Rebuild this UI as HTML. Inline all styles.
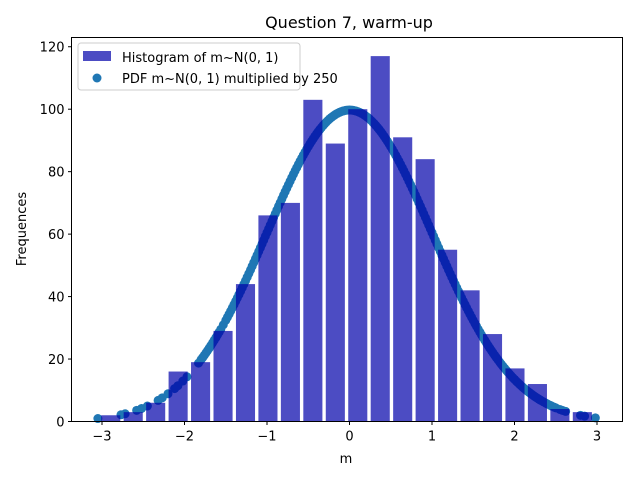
<!DOCTYPE html>
<html><head><meta charset="utf-8"><style>
body{margin:0;background:#fff;}
svg{display:block;font-family:"DejaVu Sans","Liberation Sans",sans-serif;}
</style></head><body>
<svg id="chart" width="640" height="480">
<rect width="640" height="480" fill="#fff"/>
<text x="349" y="28" font-size="16" text-anchor="middle">Question 7, warm-up</text>
<g id="scatter"></g>
<g id="bars"></g>
<g id="axes"></g>
<text x="346" y="463" font-size="13" text-anchor="middle">m</text>
<text x="26" y="229" font-size="13" text-anchor="middle" transform="rotate(-90 26 229)">Frequences</text>
<g>
<rect x="78" y="43" width="222" height="47" rx="3" fill="#fff" fill-opacity="0.8" stroke="#ccc"/>
<rect x="83" y="51" width="28" height="10" fill="#0000aa" fill-opacity="0.7"/>
<text x="122" y="62" font-size="13">Histogram of m~N(0, 1)</text>
<circle cx="97" cy="78" r="4.5" fill="#1f77b4"/>
<text x="122" y="83" font-size="13">PDF m~N(0, 1) multiplied by 250</text>
</g>
</svg>
<script>
const binStart = -3.03;
const binWidth = 0.2722;
const counts = [2,3,6,16,19,29,44,66,70,103,89,100,117,91,84,55,42,28,17,12,4,3];
const yTicks = [0,20,40,60,80,100,120];
const xTicks = [-3,-2,-1,0,1,2,3];
const sampleX = [-3.05,-2.77,-2.72,-2.58,-2.52,-2.45,-2.32,-2.27,-2.2,-2.12,-2.08,-2.02,-1.97,-1.83,-1.8,-1.78,-1.76,-1.74,-1.72,-1.7,-1.68,-1.66,-1.64,-1.62,-1.6,-1.58,-1.56,-1.53,-1.5,-1.48,-1.46,-1.44,-1.42,-1.4,-1.38,-1.36,-1.34,-1.32,-1.3,-1.28,-1.26,-1.24,-1.22,-1.2,-1.18,-1.16,-1.14,-1.12,-1.1,-1.08,-1.06,-1.04,-1.02,-1,-0.98,-0.96,-0.94,-0.92,-0.9,-0.88,-0.86,-0.84,-0.82,-0.8,-0.78,-0.76,-0.74,-0.72,-0.7,-0.68,-0.66,-0.64,-0.62,-0.6,-0.58,-0.56,-0.54,-0.52,-0.5,-0.48,-0.46,-0.44,-0.42,-0.4,-0.38,-0.36,-0.34,-0.32,-0.3,-0.28,-0.26,-0.24,-0.22,-0.2,-0.18,-0.16,-0.14,-0.12,-0.1,-0.08,-0.06,-0.04,-0.02,0,0.02,0.04,0.06,0.08,0.1,0.12,0.14,0.16,0.18,0.2,0.22,0.24,0.26,0.28,0.3,0.32,0.34,0.36,0.38,0.4,0.42,0.44,0.46,0.48,0.5,0.52,0.54,0.56,0.58,0.6,0.62,0.64,0.66,0.68,0.7,0.72,0.74,0.76,0.78,0.8,0.82,0.84,0.86,0.88,0.9,0.92,0.94,0.96,0.98,1,1.02,1.04,1.06,1.08,1.1,1.12,1.14,1.16,1.18,1.2,1.22,1.24,1.26,1.28,1.3,1.32,1.34,1.36,1.38,1.4,1.42,1.44,1.46,1.48,1.5,1.52,1.54,1.56,1.58,1.6,1.62,1.64,1.66,1.68,1.7,1.72,1.74,1.76,1.78,1.8,1.82,1.84,1.86,1.88,1.9,1.92,1.94,1.96,1.98,2,2.02,2.04,2.06,2.08,2.1,2.12,2.14,2.16,2.18,2.2,2.22,2.24,2.26,2.28,2.3,2.32,2.35,2.38,2.4,2.43,2.45,2.48,2.5,2.55,2.58,2.62,2.8,2.85,2.98];
const scale = 250;

const NS="http://www.w3.org/2000/svg";
const L=71.5,R=622.5,T=37.5,B=421.5;
const xS=v=>349.5+v*82.5;
const yS=v=>421.5-v*3.123;
function mk(tag,attrs,parent){const e=document.createElementNS(NS,tag);for(const k in attrs)e.setAttribute(k,attrs[k]);parent.appendChild(e);return e;}
const sc=document.getElementById('scatter');
sampleX.forEach(x=>{
  const y=scale*Math.exp(-x*x/2)/Math.sqrt(2*Math.PI);
  const c=mk('circle',{cx:xS(x),cy:yS(y),r:4.5,fill:'#1f77b4'},sc);
  
  
});
const bg=document.getElementById('bars');
counts.forEach((n,i)=>{
  const x0=binStart+binWidth*(i+0.075), x1=binStart+binWidth*(i+0.925);
  const r=mk('rect',{x:xS(x0),y:yS(n),width:xS(x1)-xS(x0),height:yS(0)-yS(n),fill:'#0000aa','fill-opacity':0.7},bg);
  
  
});
const ax=document.getElementById('axes');
mk('rect',{x:L,y:T,width:R-L,height:B-T,fill:'none',stroke:'#000','stroke-width':1},ax);
yTicks.forEach(v=>{
  const y=yS(v);
  mk('line',{x1:L-3.5,x2:L,y1:y,y2:y,stroke:'#000'},ax);
  const t=mk('text',{x:L-7,y:y+5,'font-size':13,'text-anchor':'end'},ax);
  t.textContent=v;
  
  
});
xTicks.forEach(v=>{
  const x=xS(v);
  mk('line',{x1:x,x2:x,y1:B,y2:B+3.5,stroke:'#000'},ax);
  const t=mk('text',{x:x,y:B+19,'font-size':13,'text-anchor':'middle'},ax);
  t.textContent=v<0?'\u2212'+(-v):v;
  
  
});
</script>
</body></html>
